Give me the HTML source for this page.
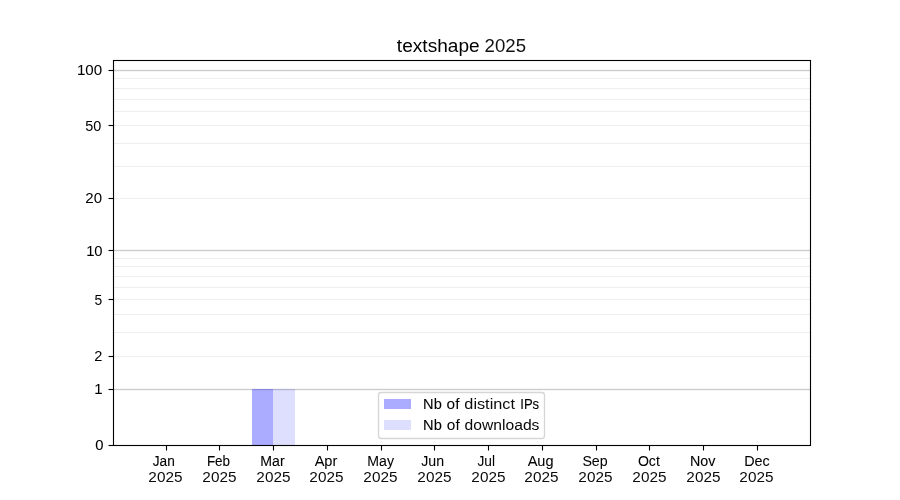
<!DOCTYPE html>
<html lang="en">
<head>
<meta charset="utf-8">
<title>textshape 2025</title>
<style>
html,body{margin:0;padding:0;background:#fff;}
body{width:900px;height:500px;overflow:hidden;}
svg{display:block;position:absolute;left:0;top:0;will-change:transform;}
text{font-family:"Liberation Sans",sans-serif;fill:#000;}
.sp{stroke:#000;stroke-width:1.11;fill:none;}
</style>
</head>
<body>
<svg width="900" height="500" viewBox="0 0 900 500">
<rect x="0" y="0" width="900" height="500" fill="#fff"/>
<g id="grid" shape-rendering="crispEdges">
<rect x="113" y="69" width="698" height="3" fill="#f5f5f5"/><rect x="113" y="70" width="698" height="1" fill="#ccc"/>
<rect x="113" y="249" width="698" height="3" fill="#f5f5f5"/><rect x="113" y="250" width="698" height="1" fill="#ccc"/>
<rect x="113" y="388" width="698" height="3" fill="#f5f5f5"/><rect x="113" y="389" width="698" height="1" fill="#ccc"/>
<rect x="113" y="78" width="698" height="1" fill="#eee"/>
<rect x="113" y="88" width="698" height="1" fill="#eee"/>
<rect x="113" y="99" width="698" height="1" fill="#eee"/>
<rect x="113" y="111" width="698" height="1" fill="#eee"/>
<rect x="113" y="125" width="698" height="1" fill="#eee"/>
<rect x="113" y="143" width="698" height="1" fill="#eee"/>
<rect x="113" y="166" width="698" height="1" fill="#eee"/>
<rect x="113" y="198" width="698" height="1" fill="#eee"/>
<rect x="113" y="258" width="698" height="1" fill="#eee"/>
<rect x="113" y="266" width="698" height="1" fill="#eee"/>
<rect x="113" y="276" width="698" height="1" fill="#eee"/>
<rect x="113" y="287" width="698" height="1" fill="#eee"/>
<rect x="113" y="299" width="698" height="1" fill="#eee"/>
<rect x="113" y="314" width="698" height="1" fill="#eee"/>
<rect x="113" y="332" width="698" height="1" fill="#eee"/>
<rect x="113" y="356" width="698" height="1" fill="#eee"/>
</g>
<g id="bars" shape-rendering="crispEdges">
<rect x="252" y="389" width="21" height="56.5" fill="#00f" fill-opacity="0.33"/>
<rect x="273" y="389" width="22" height="56.5" fill="#00f" fill-opacity="0.13"/>
</g>
<g id="ticks" stroke="#000" stroke-width="1.11">
<line x1="166.5" x2="166.5" y1="445.5" y2="450.5"/>
<line x1="219.5" x2="219.5" y1="445.5" y2="450.5"/>
<line x1="273.5" x2="273.5" y1="445.5" y2="450.5"/>
<line x1="327.5" x2="327.5" y1="445.5" y2="450.5"/>
<line x1="381.5" x2="381.5" y1="445.5" y2="450.5"/>
<line x1="434.5" x2="434.5" y1="445.5" y2="450.5"/>
<line x1="488.5" x2="488.5" y1="445.5" y2="450.5"/>
<line x1="542.5" x2="542.5" y1="445.5" y2="450.5"/>
<line x1="596.5" x2="596.5" y1="445.5" y2="450.5"/>
<line x1="649.5" x2="649.5" y1="445.5" y2="450.5"/>
<line x1="703.5" x2="703.5" y1="445.5" y2="450.5"/>
<line x1="757.5" x2="757.5" y1="445.5" y2="450.5"/>
<line x1="108.5" x2="113.5" y1="70.5" y2="70.5"/>
<line x1="108.5" x2="113.5" y1="125.5" y2="125.5"/>
<line x1="108.5" x2="113.5" y1="198.5" y2="198.5"/>
<line x1="108.5" x2="113.5" y1="250.5" y2="250.5"/>
<line x1="108.5" x2="113.5" y1="299.5" y2="299.5"/>
<line x1="108.5" x2="113.5" y1="356.5" y2="356.5"/>
<line x1="108.5" x2="113.5" y1="389.5" y2="389.5"/>
<line x1="108.5" x2="113.5" y1="445.5" y2="445.5"/>
</g>
<rect class="sp" x="113.5" y="60.5" width="697" height="385" stroke-linejoin="miter"/>
<g id="legend">
<rect x="378.5" y="392.5" width="166" height="46" rx="2.78" ry="2.78" fill="#fff" fill-opacity="0.8" stroke="#ccc" stroke-opacity="0.8" stroke-width="1.34"/>
<rect x="384" y="399" width="27" height="10" fill="#00f" fill-opacity="0.33" shape-rendering="crispEdges"/>
<rect x="384" y="420" width="27" height="10" fill="#00f" fill-opacity="0.13" shape-rendering="crispEdges"/>
</g>
<g id="labels" style="filter:opacity(1)">
<g id="title">
<text text-anchor="middle" font-size="18.10" transform="translate(438.26 51.79) scale(1.0556 1)">textshape</text>
<text text-anchor="middle" font-size="18.10" fill-opacity="0.938" transform="translate(505.29 51.79) scale(1.0278 1)">2025</text>
</g>
<text text-anchor="end" font-size="14.30" stroke="#000" stroke-width="0.050" transform="translate(102.06 74.90) scale(1.0565 1)">100</text>
<text text-anchor="end" font-size="14.30" transform="translate(101.28 131.34) scale(1.0097 1)">50</text>
<text text-anchor="end" font-size="14.30" transform="translate(102.08 203.44) scale(1.0519 1)">20</text>
<text text-anchor="end" font-size="14.30" stroke="#000" stroke-width="0.050" transform="translate(102.58 255.71) scale(1.0345 1)">10</text>
<text text-anchor="end" font-size="14.30" transform="translate(102.16 305.09) scale(0.9673 1)">5</text>
<text text-anchor="end" font-size="14.30" transform="translate(102.36 361.23) scale(1.0199 1)">2</text>
<text text-anchor="end" font-size="14.30" stroke="#000" stroke-width="0.050" transform="translate(102.53 393.78) scale(1.0458 1)">1</text>
<text text-anchor="end" font-size="14.30" stroke="#000" stroke-width="0.100" transform="translate(103.47 449.98) scale(1.0370 1)">0</text>
<text text-anchor="middle" font-size="14.30" stroke="#000" stroke-width="0.100" transform="translate(163.79 466.10) scale(0.9558 1)">Jan</text>
<text text-anchor="middle" font-size="14.30" fill-opacity="0.956" transform="translate(165.40 482.30) scale(1.0724 1)">2025</text>
<text text-anchor="middle" font-size="14.30" stroke="#000" stroke-width="0.100" transform="translate(218.46 466.10) scale(0.9408 1)">Feb</text>
<text text-anchor="middle" font-size="14.30" fill-opacity="0.956" transform="translate(219.40 482.30) scale(1.0724 1)">2025</text>
<text text-anchor="middle" font-size="14.30" stroke="#000" stroke-width="0.100" transform="translate(272.47 466.10) scale(0.9878 1)">Mar</text>
<text text-anchor="middle" font-size="14.30" fill-opacity="0.956" transform="translate(273.40 482.30) scale(1.0724 1)">2025</text>
<text text-anchor="middle" font-size="14.30" stroke="#000" stroke-width="0.050" transform="translate(325.98 466.10) scale(1.0196 1)">Apr</text>
<text text-anchor="middle" font-size="14.30" fill-opacity="0.956" transform="translate(326.40 482.30) scale(1.0724 1)">2025</text>
<text text-anchor="middle" font-size="14.30" stroke="#000" stroke-width="0.050" transform="translate(380.67 466.10) scale(0.9879 1)">May</text>
<text text-anchor="middle" font-size="14.30" fill-opacity="0.956" transform="translate(380.40 482.30) scale(1.0724 1)">2025</text>
<text text-anchor="middle" font-size="14.30" stroke="#000" stroke-width="0.050" transform="translate(432.65 466.10) scale(0.9923 1)">Jun</text>
<text text-anchor="middle" font-size="14.30" fill-opacity="0.956" transform="translate(434.40 482.30) scale(1.0724 1)">2025</text>
<text text-anchor="middle" font-size="14.30" stroke="#000" stroke-width="0.050" transform="translate(486.22 466.10) scale(0.9599 1)">Jul</text>
<text text-anchor="middle" font-size="14.30" fill-opacity="0.956" transform="translate(488.40 482.30) scale(1.0724 1)">2025</text>
<text text-anchor="middle" font-size="14.30" stroke="#000" stroke-width="0.050" transform="translate(540.59 466.10) scale(1.0165 1)">Aug</text>
<text text-anchor="middle" font-size="14.30" fill-opacity="0.956" transform="translate(541.40 482.30) scale(1.0724 1)">2025</text>
<text text-anchor="middle" font-size="14.30" stroke="#000" stroke-width="0.050" transform="translate(595.02 466.10) scale(0.9945 1)">Sep</text>
<text text-anchor="middle" font-size="14.30" fill-opacity="0.956" transform="translate(595.40 482.30) scale(1.0724 1)">2025</text>
<text text-anchor="middle" font-size="14.30" stroke="#000" stroke-width="0.050" transform="translate(648.86 466.10) scale(0.9875 1)">Oct</text>
<text text-anchor="middle" font-size="14.30" fill-opacity="0.956" transform="translate(649.40 482.30) scale(1.0724 1)">2025</text>
<text text-anchor="middle" font-size="14.30" stroke="#000" stroke-width="0.100" transform="translate(702.72 466.10) scale(1.0001 1)">Nov</text>
<text text-anchor="middle" font-size="14.30" fill-opacity="0.956" transform="translate(703.40 482.30) scale(1.0724 1)">2025</text>
<text text-anchor="middle" font-size="14.30" stroke="#000" stroke-width="0.050" transform="translate(756.98 466.10) scale(1.0058 1)">Dec</text>
<text text-anchor="middle" font-size="14.30" fill-opacity="0.956" transform="translate(756.40 482.30) scale(1.0724 1)">2025</text>
<g id="l1">
<text text-anchor="middle" font-size="14.30" stroke="#000" stroke-width="0.100" transform="translate(432.46 409.20) scale(1.0222 1)">Nb</text>
<text text-anchor="middle" font-size="14.30" stroke="#000" stroke-width="0.050" transform="translate(453.02 409.20) scale(1.0785 1)">of</text>
<text text-anchor="middle" font-size="14.30" fill-opacity="0.961" transform="translate(489.62 409.20) scale(1.1371 1)">distinct</text>
<text text-anchor="middle" font-size="14.30" stroke="#000" stroke-width="0.100" transform="translate(529.70 409.20) scale(0.9154 1)">IPs</text>
</g>
<g id="l2">
<text text-anchor="middle" font-size="14.30" stroke="#000" stroke-width="0.100" transform="translate(432.48 430.20) scale(1.0241 1)">Nb</text>
<text text-anchor="middle" font-size="14.30" transform="translate(453.28 430.20) scale(1.0786 1)">of</text>
<text text-anchor="middle" font-size="14.30" fill-opacity="0.973" transform="translate(502.03 430.20) scale(1.0953 1)">downloads</text>
</g>
</g>
</svg>
</body>
</html>
